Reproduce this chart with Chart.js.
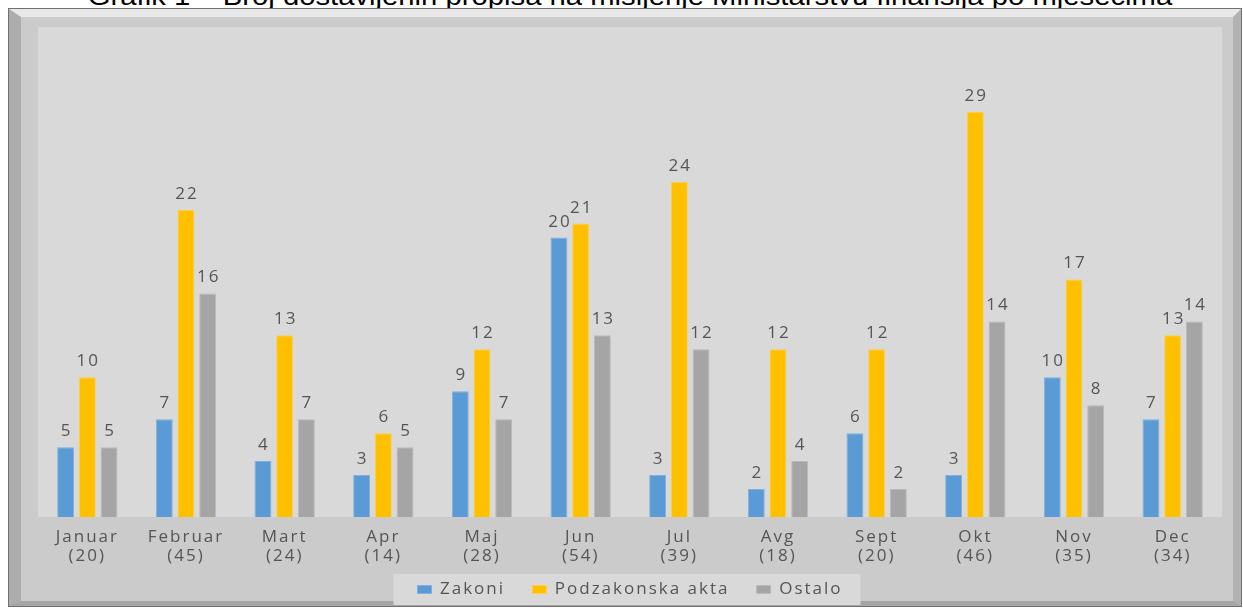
<!DOCTYPE html>
<html>
<head>
<meta charset="utf-8">
<script src="https://cdn.jsdelivr.net/npm/chart.js@4.4.1/dist/chart.umd.min.js"></script>
<style>
    html, body { margin: 0; padding: 0; background: #fff; width: 1243px; height: 608px; overflow: hidden; }
    #title {
        position: absolute; left: 0; top: -16px; width: 1260px;
        text-align: center; white-space: nowrap;
        font: 25px "Liberation Sans", Arial, sans-serif; line-height: 25px; color: #000;
        transform: scaleX(1.17); transform-origin: 630px 0;
    }
    #frame {
        position: absolute; left: 8px; top: 8px; width: 1234px; height: 599px;
        box-sizing: border-box; border: 1px solid #707070;
    }
    #bevel {
        box-sizing: border-box; width: 100%; height: 100%; background: #cbcbcb;
        border-top: 8px solid #e8e8e8; border-left: 12px solid #adadad;
        border-right: 8px solid #b2b2b2; border-bottom: 5px solid #a6a6a6;
    }
    #chart { position: absolute; left: 0; top: 0; }
</style>
</head>
<body>
<div id="title">Grafik 1 – Broj dostavljenih propisa na mišljenje Ministarstvu finansija po mjesecima</div>
<div id="frame"><div id="bevel"></div></div>
<canvas id="chart" width="1243" height="608"></canvas>
<script>
// Months and the total shown under each month
const months = ['Januar', 'Februar', 'Mart', 'Apr', 'Maj', 'Jun', 'Jul', 'Avg', 'Sept', 'Okt', 'Nov', 'Dec'];
const monthTotals = [20, 45, 24, 14, 28, 54, 39, 18, 20, 46, 35, 34];

// Series values
const zakoni = [5, 7, 4, 3, 9, 20, 3, 2, 6, 3, 10, 7];
const podzakonska = [10, 22, 13, 6, 12, 21, 24, 12, 12, 29, 17, 13];
const ostalo = [5, 16, 7, 5, 7, 13, 12, 4, 2, 14, 8, 14];

const textGray = '#555555';
const spacing = '2px';

// plot background, legend background, value labels
const excelLook = {
    id: 'excelLook',
    beforeUpdate(chart) {
        chart.ctx.letterSpacing = spacing;
    },
    beforeDraw(chart) {
        const ctx = chart.ctx;
        const a = chart.chartArea;
        ctx.save();
        ctx.fillStyle = '#d9d9d9';
        ctx.fillRect(a.left, a.top - 1, a.right - a.left, a.bottom - a.top + 1);
        const hb = chart.legend.legendHitBoxes;
        if (hb && hb.length) {
            const x0 = Math.min(...hb.map(h => h.left)) - 24;
            const x1 = Math.max(...hb.map(h => h.left + h.width)) + 18;
            const cy = hb[0].top + hb[0].height / 2;
            ctx.fillRect(x0, cy - 15.5, x1 - x0, 31);
        }
        ctx.restore();
        ctx.letterSpacing = spacing;
    },
    afterDatasetsDraw(chart) {
        const ctx = chart.ctx;
        ctx.save();
        ctx.letterSpacing = spacing;
        ctx.font = '17px "Open Sans"';
        ctx.fillStyle = textGray;
        ctx.textAlign = 'center';
        ctx.textBaseline = 'alphabetic';
        chart.data.datasets.forEach((ds, i) => {
            chart.getDatasetMeta(i).data.forEach((bar, j) => {
                ctx.fillText(String(ds.data[j]), bar.x + 1, bar.y - 11);
            });
        });
        ctx.restore();
    }
};

const ctx = document.getElementById('chart').getContext('2d');
new Chart(ctx, {
    type: 'bar',
    data: {
        labels: months.map((m, i) => [m, '(' + monthTotals[i] + ')']),
        datasets: [
            { label: 'Zakoni', data: zakoni, backgroundColor: '#5b9bd5', borderColor: '#7fb1e0', borderWidth: 1 },
            { label: 'Podzakonska akta', data: podzakonska, backgroundColor: '#ffc000', borderColor: '#ffd04a', borderWidth: 1 },
            { label: 'Ostalo', data: ostalo, backgroundColor: '#a5a5a5', borderColor: '#b9b9b9', borderWidth: 1 }
        ]
    },
    options: {
        responsive: false,
        animation: false,
        datasets: { bar: { categoryPercentage: 0.66, barPercentage: 0.78 } },
        layout: { padding: { left: 38, right: 21, top: 28, bottom: 0 } },
        scales: {
            x: {
                grid: { display: false },
                border: { display: false },
                ticks: { color: textGray, font: { family: 'Open Sans', size: 17, lineHeight: 1.15 }, padding: 2, maxRotation: 0, autoSkip: false },
                afterFit(scale) { scale.height = 56; }
            },
            y: { display: false, min: 0, max: 35 }
        },
        plugins: {
            legend: {
                position: 'bottom',
                labels: {
                    boxWidth: 14, boxHeight: 8, padding: 8, color: textGray, font: { family: 'Open Sans', size: 17 },
                    // wider gap between legend entries, like the Excel legend
                    generateLabels(chart) {
                        const items = Chart.defaults.plugins.legend.labels.generateLabels(chart);
                        items.forEach((it, i) => { if (i < items.length - 1) it.text += '   '; });
                        return items;
                    }
                }
            },
            tooltip: { enabled: false }
        }
    },
    plugins: [excelLook]
});
</script>
</body>
</html>
